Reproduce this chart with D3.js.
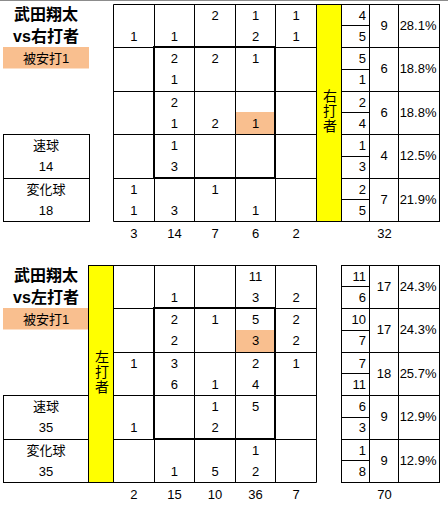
<!DOCTYPE html>
<html><head><meta charset="utf-8">
<script src="https://cdn.jsdelivr.net/npm/d3@7"></script>
<style>
html,body{margin:0;padding:0;background:#fff;}
svg{display:block;}
text{font-family:"Liberation Sans","Noto Sans CJK JP",sans-serif;fill:#000;}
.vert{writing-mode:vertical-rl;text-orientation:upright;}
</style></head>
<body>
<script>
// ---------- DATA ----------
const pitcher = "武田翔太";
const hitLabel = "被安打1";
const fastLabel = "速球";
const breakLabel = "変化球";

// vs right-handed batters
const rTitle = "vs右打者";
const rSide = "右打者";
const rFast = [[null,null,2,1,1],[null,2,2,1,null],[null,2,null,null,null],[null,1,null,null,null],[1,null,1,null,null]];
const rBreak = [[1,1,null,2,1],[null,1,null,null,null],[null,1,2,1,null],[null,3,null,null,null],[1,3,null,1,null]];
const rColTotals = [3,14,7,6,2];
const rRowFast = [4,5,2,1,2];
const rRowBreak = [5,1,4,3,5];
const rRowTotals = [9,6,6,4,7];
const rRowPct = ["28.1%","18.8%","18.8%","12.5%","21.9%"];
const rTotal = 32, rFastTotal = 14, rBreakTotal = 18;
const rHit = [2,3,1]; // row, col, half (1 = lower)

// vs left-handed batters
const lTitle = "vs左打者";
const lSide = "左打者";
const lFast = [[null,null,null,11,null],[null,2,1,5,2],[1,3,null,2,1],[null,null,1,5,null],[null,null,null,1,null]];
const lBreak = [[null,1,null,3,2],[null,2,null,3,2],[null,6,1,4,null],[1,null,2,null,null],[null,1,5,2,null]];
const lColTotals = [2,15,10,36,7];
const lRowFast = [11,10,7,6,1];
const lRowBreak = [6,7,11,3,8];
const lRowTotals = [17,17,18,9,9];
const lRowPct = ["24.3%","24.3%","25.7%","12.9%","12.9%"];
const lTotal = 70, lFastTotal = 35, lBreakTotal = 35;
const lHit = [1,3,1];

// ---------- DRAW ----------
const W = 448, H = 511;
const svg = d3.select("body").append("svg").attr("width",W).attr("height",H);
const peach = "#F9BF8F", yellow = "#FFFF00";
const fs = 13;

svg.append("line").attr("x1",0).attr("x2",W).attr("y1",0.5).attr("y2",0.5)
  .attr("stroke","#8c8c8c").attr("stroke-width",1);

const px = v => Math.round(v) + 0.5;

function panel(cfg){
  const g = svg.append("g");
  const x = d3.scaleLinear().domain([0,5]).range([113,316]);
  const y = d3.scaleLinear().domain([0,5]).range([cfg.y0, cfg.y0 + 217.5]);
  const rh = y(1) - y(0);
  const subY = (r, h) => y(r) + (h === 0 ? 11.5 : 32.5);

  // titles
  g.append("text").attr("x",46).attr("y",cfg.y0+11).attr("text-anchor","middle")
    .attr("dominant-baseline","central").attr("font-size",16).attr("font-weight","bold").text(pitcher);
  g.append("text").attr("x",46).attr("y",cfg.y0+33).attr("text-anchor","middle")
    .attr("dominant-baseline","central").attr("font-size",16).attr("font-weight","bold").text(cfg.title);
  g.append("rect").attr("x",3).attr("y",y(1)).attr("width",86).attr("height",21.5).attr("fill",peach);
  g.append("text").attr("x",46).attr("y",y(1)+11).attr("text-anchor","middle")
    .attr("dominant-baseline","central").attr("font-size",fs).text(hitLabel);

  // pitch type box
  g.append("rect").attr("x",px(3)).attr("y",px(y(3))).attr("width",Math.round(89-3))
    .attr("height",Math.round(y(5))-Math.round(y(3))).attr("fill","none").attr("stroke","#000");
  g.append("line").attr("x1",px(3)).attr("x2",px(89)).attr("y1",px(y(4))).attr("y2",px(y(4))).attr("stroke","#000");
  [[fastLabel,3,0],[cfg.fastTotal,3,1],[breakLabel,4,0],[cfg.breakTotal,4,1]].forEach(([t,r,h])=>{
    g.append("text").attr("x",46).attr("y",subY(r,h)).attr("text-anchor","middle")
      .attr("dominant-baseline","central").attr("font-size",fs).text(t);
  });

  // highlight
  const [hr,hc,hh] = cfg.hit;
  g.append("rect").attr("x",Math.round(x(hc))).attr("y",Math.round(y(hr)+rh/2))
    .attr("width",Math.round(x(hc+1))-Math.round(x(hc))).attr("height",Math.round(y(hr+1))-Math.round(y(hr)+rh/2))
    .attr("fill",peach);

  // grid lines
  d3.range(6).forEach(i=>{
    g.append("line").attr("x1",px(x(i))).attr("x2",px(x(i))).attr("y1",px(y(0))).attr("y2",px(y(5))).attr("stroke","#000");
    g.append("line").attr("x1",px(x(0))).attr("x2",px(x(5))).attr("y1",px(y(i))).attr("y2",px(y(i))).attr("stroke","#000");
  });
  // strike zone
  g.append("rect").attr("x",Math.round(x(1))).attr("y",Math.round(y(1)))
    .attr("width",Math.round(x(4))-Math.round(x(1))).attr("height",Math.round(y(4))-Math.round(y(1)))
    .attr("fill","none").attr("stroke","#000").attr("stroke-width",2);

  // cell values
  [cfg.fast, cfg.brk].forEach((m,h)=>{
    m.forEach((row,r)=>row.forEach((v,c)=>{
      if(v==null) return;
      g.append("text").attr("x",(x(c)+x(c+1))/2+0.5).attr("y",subY(r,h)).attr("text-anchor","middle")
        .attr("dominant-baseline","central").attr("font-size",fs).text(v);
    }));
  });
  // column totals
  cfg.colTotals.forEach((v,c)=>{
    g.append("text").attr("x",(x(c)+x(c+1))/2+0.5).attr("y",y(5)+12).attr("text-anchor","middle")
      .attr("dominant-baseline","central").attr("font-size",fs).text(v);
  });

  // yellow side column
  const yx0 = cfg.yellowX, yx1 = cfg.yellowX + 25;
  g.append("rect").attr("x",px(yx0)).attr("y",px(y(0))).attr("width",yx1-yx0)
    .attr("height",Math.round(y(5))-Math.round(y(0))).attr("fill",yellow).attr("stroke","#000");
  const ymid = (y(0)+y(5))/2 - 1;
  g.append("text").attr("class","vert").attr("x",(yx0+yx1)/2+0.5).attr("y",ymid)
    .attr("text-anchor","middle").attr("font-size",14).attr("letter-spacing",1).text(cfg.side);

  // right summary section
  const c0 = 341, c1 = 369, c2 = 398, c3 = 439;
  g.append("rect").attr("x",px(c0)).attr("y",px(y(0))).attr("width",c3-c0)
    .attr("height",Math.round(y(5))-Math.round(y(0))).attr("fill","none").attr("stroke","#000");
  [c1,c2].forEach(cx=>g.append("line").attr("x1",px(cx)).attr("x2",px(cx)).attr("y1",px(y(0))).attr("y2",px(y(5))).attr("stroke","#000"));
  d3.range(1,5).forEach(i=>g.append("line").attr("x1",px(c0)).attr("x2",px(c3)).attr("y1",px(y(i))).attr("y2",px(y(i))).attr("stroke","#000"));
  d3.range(5).forEach(r=>{
    g.append("line").attr("x1",px(c0)).attr("x2",px(c1)).attr("y1",px(y(r)+rh/2)).attr("y2",px(y(r)+rh/2)).attr("stroke","#000");
    g.append("text").attr("x",366).attr("y",subY(r,0)).attr("text-anchor","end")
      .attr("dominant-baseline","central").attr("font-size",fs).text(cfg.rowFast[r]);
    g.append("text").attr("x",366).attr("y",subY(r,1)).attr("text-anchor","end")
      .attr("dominant-baseline","central").attr("font-size",fs).text(cfg.rowBreak[r]);
    g.append("text").attr("x",(c1+c2)/2+0.5).attr("y",y(r)+rh/2).attr("text-anchor","middle")
      .attr("dominant-baseline","central").attr("font-size",fs).text(cfg.rowTotals[r]);
    g.append("text").attr("x",436.5).attr("y",y(r)+rh/2).attr("text-anchor","end")
      .attr("dominant-baseline","central").attr("font-size",fs).text(cfg.rowPct[r]);
  });
  g.append("text").attr("x",(c1+c2)/2+1).attr("y",y(5)+12).attr("text-anchor","middle")
    .attr("dominant-baseline","central").attr("font-size",fs).text(cfg.total);
}

panel({y0:3.5, title:rTitle, side:rSide, fast:rFast, brk:rBreak, colTotals:rColTotals,
  rowFast:rRowFast, rowBreak:rRowBreak, rowTotals:rRowTotals, rowPct:rRowPct, total:rTotal,
  fastTotal:rFastTotal, breakTotal:rBreakTotal, hit:rHit, yellowX:316});
panel({y0:264.5, title:lTitle, side:lSide, fast:lFast, brk:lBreak, colTotals:lColTotals,
  rowFast:lRowFast, rowBreak:lRowBreak, rowTotals:lRowTotals, rowPct:lRowPct, total:lTotal,
  fastTotal:lFastTotal, breakTotal:lBreakTotal, hit:lHit, yellowX:88});
</script>
</body></html>
